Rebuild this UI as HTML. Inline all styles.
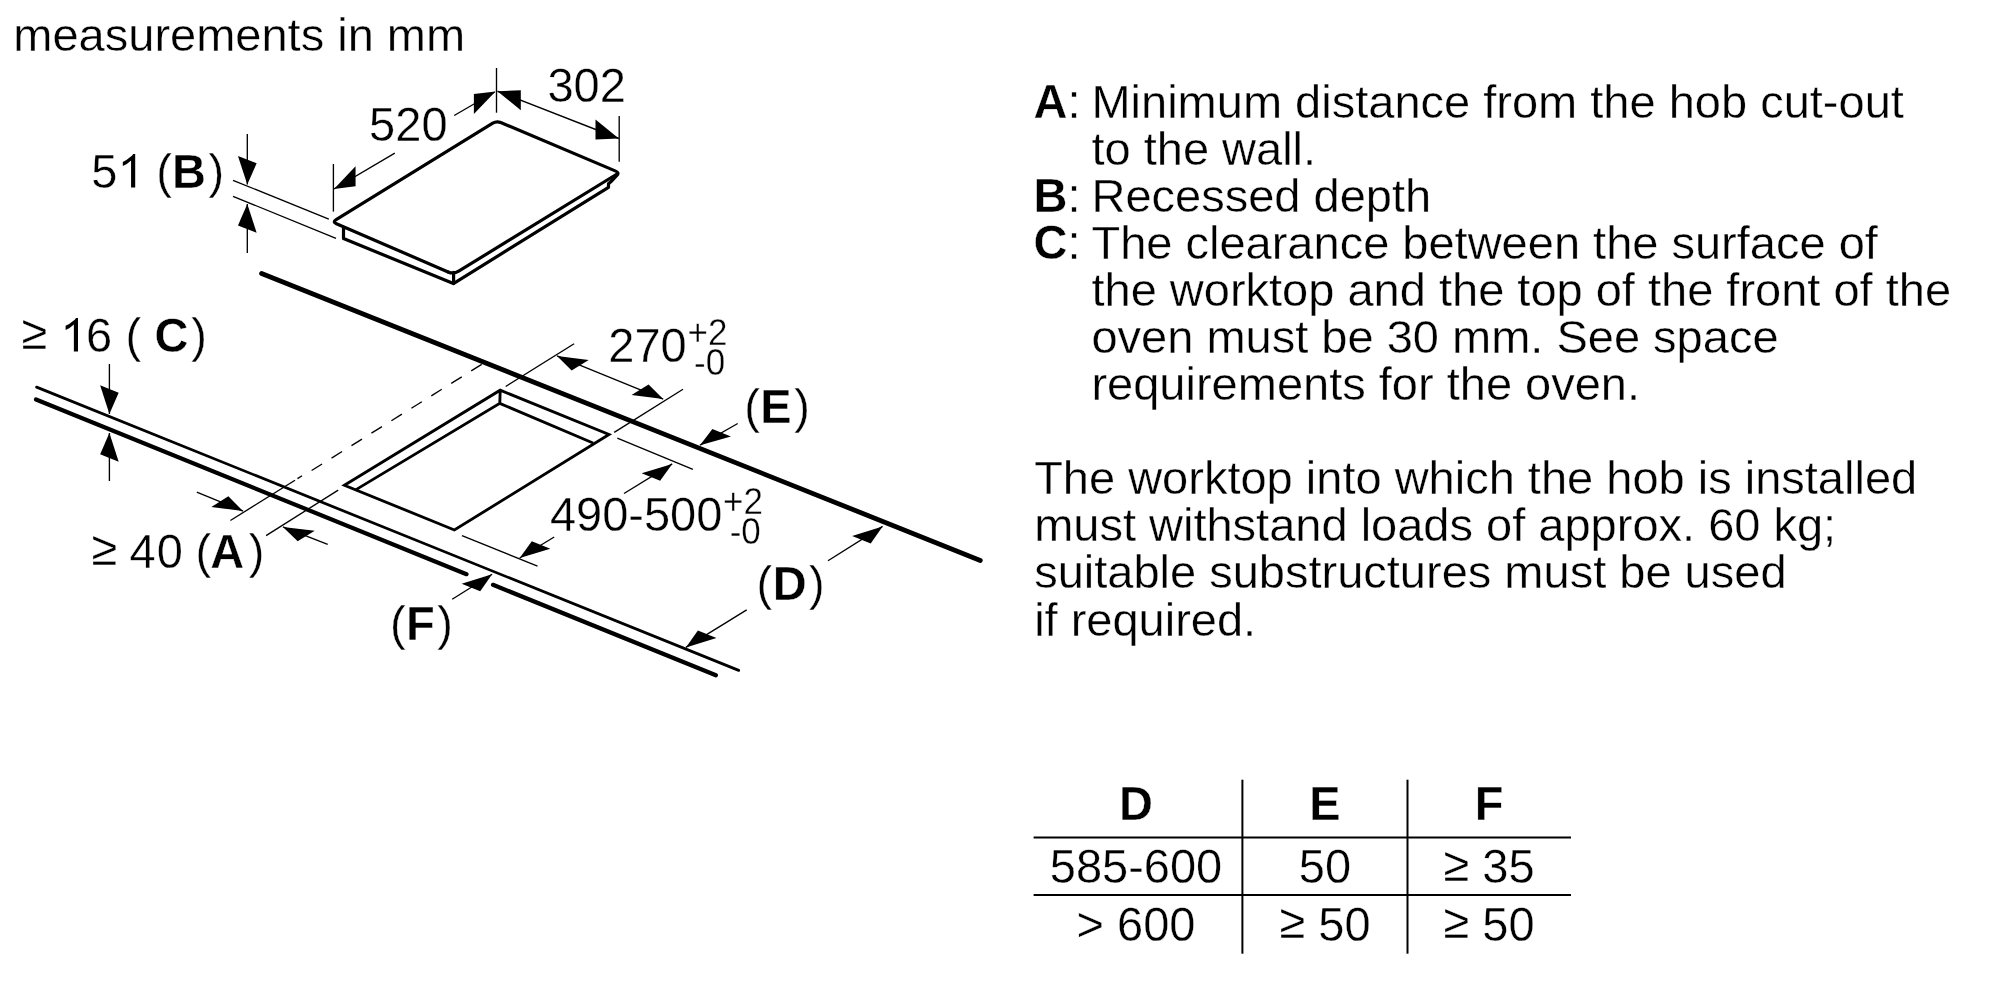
<!DOCTYPE html>
<html><head><meta charset="utf-8"><style>
html,body{margin:0;padding:0;background:#fff;}
body{width:2000px;height:1000px;overflow:hidden;}
svg{display:block;will-change:transform;}
text{font-family:"Liberation Sans",sans-serif;fill:#000;stroke:#fff;stroke-width:0.35;}
.t{stroke:#000;stroke-width:1.35;}
.mid{stroke:#000;stroke-width:2.75;stroke-linecap:round;}
.thick{stroke:#000;stroke-width:4.8;stroke-linecap:round;}
.thick2{stroke:#000;stroke-width:4.2;stroke-linecap:round;}
.tb{stroke:#000;stroke-width:2;}
.ah{fill:#000;}
.hob{fill:none;stroke:#000;stroke-width:3.4;stroke-linejoin:round;}
.hob2{fill:none;stroke:#000;stroke-width:3.2;stroke-linejoin:round;stroke-linecap:round;}
.cut{fill:none;stroke:#000;stroke-width:2.85;stroke-linejoin:miter;}
</style></head><body>
<svg width="2000" height="1000" viewBox="0 0 2000 1000">
<path d="M448.09,271.92 L336.43,223.78 Q332.30,222.00 336.13,219.64 L492.77,123.16 Q496.60,120.80 500.75,122.55 L615.15,170.85 Q619.30,172.60 617.30,174.83 L612.40,180.30 L608.50,183.80 L608.50,187.30 L453.40,283.60 L343.50,238.50 L343.50,227.50" class="hob2"/>
<path d="M617.42,173.75 L458.71,271.16 Q453.60,274.30 448.09,271.92" class="hob2"/>
<path d="M453.6,272.3 L453.6,283.3" class="hob2"/>
<line x1="247.30" y1="133.90" x2="247.30" y2="184.60" class="t"/>
<path d="M247.30,184.60L256.64,163.18L237.96,156.02Z" class="ah"/>
<line x1="247.30" y1="204.10" x2="247.30" y2="252.90" class="t"/>
<path d="M247.30,204.10L256.64,232.68L237.96,225.52Z" class="ah"/>
<line x1="233.00" y1="180.30" x2="328.80" y2="219.20" class="t"/>
<line x1="233.00" y1="196.30" x2="336.00" y2="238.40" class="t"/>
<line x1="333.40" y1="164.00" x2="333.40" y2="211.60" class="t"/>
<line x1="496.50" y1="68.00" x2="496.50" y2="112.70" class="t"/>
<line x1="619.20" y1="116.00" x2="619.20" y2="161.70" class="t"/>
<line x1="454.20" y1="115.50" x2="494.70" y2="92.00" class="t"/>
<path d="M495.50,91.60L473.86,114.12L473.86,94.12Z" class="ah"/>
<line x1="334.00" y1="189.00" x2="394.80" y2="153.20" class="t"/>
<path d="M334.00,189.00L355.54,186.32L355.54,166.32Z" class="ah"/>
<line x1="497.50" y1="91.25" x2="618.80" y2="138.50" class="t"/>
<path d="M497.50,91.25L520.80,110.32L520.80,90.32Z" class="ah"/>
<path d="M618.80,138.50L595.50,139.43L595.50,119.43Z" class="ah"/>
<line x1="261.60" y1="273.40" x2="980.30" y2="560.40" class="thick"/>
<line x1="36.60" y1="387.10" x2="738.70" y2="670.40" class="mid"/>
<line x1="36.00" y1="399.50" x2="466.50" y2="574.20" class="thick2"/>
<line x1="493.00" y1="584.80" x2="715.90" y2="675.30" class="thick2"/>
<line x1="109.40" y1="364.00" x2="109.40" y2="414.00" class="t"/>
<path d="M109.40,414.00L118.68,392.71L100.12,385.29Z" class="ah"/>
<line x1="109.40" y1="433.00" x2="109.40" y2="481.00" class="t"/>
<path d="M109.40,433.00L118.68,461.71L100.12,454.29Z" class="ah"/>
<path d="M344.4,485.2 L500.2,390.2 L609,434.4 L454.4,530 Z M356,489.6 L499.8,403.4 L593,443 M500.2,390.2 L499.8,403.4" class="cut"/>
<line x1="230.40" y1="520.50" x2="295.00" y2="480.20" class="t"/>
<line x1="297.50" y1="478.60" x2="302.00" y2="475.80" class="t"/>
<line x1="311.60" y1="470.53" x2="322.10" y2="463.98" class="t"/>
<line x1="331.55" y1="458.08" x2="342.05" y2="451.53" class="t"/>
<line x1="351.50" y1="445.63" x2="362.00" y2="439.08" class="t"/>
<line x1="371.45" y1="433.18" x2="381.95" y2="426.63" class="t"/>
<line x1="391.40" y1="420.74" x2="401.90" y2="414.18" class="t"/>
<line x1="411.35" y1="408.29" x2="421.85" y2="401.74" class="t"/>
<line x1="431.30" y1="395.84" x2="441.80" y2="389.29" class="t"/>
<line x1="451.25" y1="383.39" x2="461.75" y2="376.84" class="t"/>
<line x1="471.20" y1="370.94" x2="481.70" y2="364.39" class="t"/>
<line x1="266.10" y1="535.60" x2="338.20" y2="490.10" class="t"/>
<line x1="196.80" y1="492.20" x2="243.00" y2="511.10" class="t"/>
<path d="M243.00,511.10L228.36,496.36L211.36,506.90Z" class="ah"/>
<line x1="282.90" y1="526.90" x2="327.70" y2="544.40" class="t"/>
<path d="M282.90,526.90L314.69,530.73L297.69,541.27Z" class="ah"/>
<line x1="505.70" y1="386.50" x2="574.10" y2="343.80" class="t"/>
<line x1="614.20" y1="432.40" x2="683.00" y2="389.20" class="t"/>
<line x1="557.00" y1="355.90" x2="663.20" y2="399.10" class="t"/>
<path d="M557.00,355.90L588.66,360.05L571.66,370.59Z" class="ah"/>
<path d="M663.20,399.10L648.54,384.41L631.54,394.95Z" class="ah"/>
<line x1="617.30" y1="438.20" x2="692.90" y2="469.30" class="t"/>
<line x1="462.00" y1="535.60" x2="537.50" y2="566.20" class="t"/>
<line x1="624.00" y1="493.50" x2="672.20" y2="463.90" class="t"/>
<path d="M672.20,463.90L660.15,480.78L641.64,473.19Z" class="ah"/>
<line x1="519.70" y1="558.00" x2="554.20" y2="537.00" class="t"/>
<path d="M519.70,558.00L550.31,548.79L531.80,541.21Z" class="ah"/>
<line x1="700.00" y1="445.20" x2="737.70" y2="423.50" class="t"/>
<path d="M700.00,445.20L730.95,436.44L712.38,429.01Z" class="ah"/>
<line x1="882.60" y1="526.40" x2="828.00" y2="560.70" class="t"/>
<path d="M882.60,526.40L870.72,543.41L852.15,535.98Z" class="ah"/>
<line x1="685.90" y1="647.40" x2="746.70" y2="609.90" class="t"/>
<path d="M685.90,647.40L716.46,637.99L697.89,630.56Z" class="ah"/>
<line x1="492.10" y1="574.20" x2="452.20" y2="599.30" class="t"/>
<path d="M492.10,574.20L480.22,591.23L461.65,583.80Z" class="ah"/>
<text class="p" x="13.32" y="50.6" font-size="47">measurements in mm</text>
<text transform="translate(369.12,140.50) scale(1,1.03)" font-size="47">520</text>
<text transform="translate(547.41,101.50) scale(1,1.03)" font-size="47">302</text>
<g transform="translate(0,187.60) scale(1,1.03)"><text font-size="47"><tspan x="91.32" y="0.00">5</tspan><tspan x="156.29" y="0.00">(</tspan><tspan x="172.06" y="0.00" font-weight="bold">B</tspan><tspan x="208.52" y="0.00">)</tspan></text><path transform="translate(117.69,0) scale(0.02295,-0.02295)" d="M763,0 L583,0 L583,1147 Q430,1000 223,912 L223,1086 Q400,1160 520,1270 Q640,1350 680,1420 L763,1420 Z"/></g>
<g transform="translate(0,351.50) scale(1,1.03)"><text font-size="47"><tspan x="21.51" y="-2.43">≥</tspan><tspan x="86.11" y="0.00">6</tspan><tspan x="125.59" y="0.00">(</tspan><tspan x="154.57" y="0.00" font-weight="bold">C</tspan><tspan x="191.22" y="0.00">)</tspan></text><path transform="translate(60.49,0) scale(0.02295,-0.02295)" d="M763,0 L583,0 L583,1147 Q430,1000 223,912 L223,1086 Q400,1160 520,1270 Q640,1350 680,1420 L763,1420 Z"/></g>
<g transform="translate(0,567.50) scale(1,1.03)"><text font-size="47"><tspan x="91.51" y="-2.91">≥</tspan><tspan x="129.42" y="0.00">4</tspan><tspan x="156.66" y="0.00">0</tspan><tspan x="195.59" y="0.00">(</tspan><tspan x="210.33" y="0.00" font-weight="bold">A</tspan><tspan x="248.72" y="0.00">)</tspan></text></g>
<g transform="translate(0,600.10) scale(1,1.03)"><text font-size="47"><tspan x="756.39" y="0.00">(</tspan><tspan x="772.66" y="0.00" font-weight="bold">D</tspan><tspan x="809.12" y="0.00">)</tspan></text></g>
<g transform="translate(0,639.60) scale(1,1.03)"><text font-size="47"><tspan x="390.09" y="0.00">(</tspan><tspan x="406.06" y="0.00" font-weight="bold">F</tspan><tspan x="437.22" y="0.00">)</tspan></text></g>
<g transform="translate(0,422.90) scale(1,1.03)"><text font-size="47"><tspan x="744.29" y="0.00">(</tspan><tspan x="760.26" y="0.00" font-weight="bold">E</tspan><tspan x="794.32" y="0.00">)</tspan></text></g>
<text transform="translate(608.34,362.00) scale(1,1.03)" font-size="47">270</text>
<text transform="translate(687.59,344.80) scale(1,1.03)" font-size="35">+2</text>
<text transform="translate(694.05,374.60) scale(1,1.03)" font-size="35">-0</text>
<text transform="translate(549.92,531.30) scale(1,1.03)" font-size="47">490-500</text>
<text transform="translate(723.09,513.90) scale(1,1.03)" font-size="35">+2</text>
<text transform="translate(729.65,543.80) scale(1,1.03)" font-size="35">-0</text>
<text transform="translate(1033.50,118) scale(1,1.03)" font-size="47"><tspan font-weight="bold">A</tspan>:</text>
<text class="p" x="1091.45" y="118" font-size="47">Minimum distance from the hob cut-out</text>
<text class="p" x="1091.45" y="165" font-size="47">to the wall.</text>
<text transform="translate(1033.50,212) scale(1,1.03)" font-size="47"><tspan font-weight="bold">B</tspan>:</text>
<text class="p" x="1091.45" y="212" font-size="47">Recessed depth</text>
<text transform="translate(1033.50,259) scale(1,1.03)" font-size="47"><tspan font-weight="bold">C</tspan>:</text>
<text class="p" x="1091.45" y="259" font-size="47">The clearance between the surface of</text>
<text class="p" x="1091.45" y="306" font-size="47">the worktop and the top of the front of the</text>
<text class="p" x="1091.45" y="353" font-size="47">oven must be 30 mm. See space</text>
<text class="p" x="1091.45" y="400" font-size="47">requirements for the oven.</text>
<text class="p" x="1034.14" y="494.20" font-size="47">The worktop into which the hob is installed</text>
<text class="p" x="1034.14" y="541.30" font-size="47">must withstand loads of approx. 60 kg;</text>
<text class="p" x="1034.14" y="588.40" font-size="47">suitable substructures must be used</text>
<text class="p" x="1034.14" y="635.50" font-size="47">if required.</text>
<line x1="1242.40" y1="779.70" x2="1242.40" y2="953.70" class="tb"/>
<line x1="1407.50" y1="779.70" x2="1407.50" y2="953.70" class="tb"/>
<line x1="1033.60" y1="837.40" x2="1571.00" y2="837.40" class="tb"/>
<line x1="1033.60" y1="895.10" x2="1571.00" y2="895.10" class="tb"/>
<text transform="translate(1136,820.3) scale(1,1.03)" font-size="47" font-weight="bold" text-anchor="middle">D</text>
<text transform="translate(1325,820.3) scale(1,1.03)" font-size="47" font-weight="bold" text-anchor="middle">E</text>
<text transform="translate(1489,820.3) scale(1,1.03)" font-size="47" font-weight="bold" text-anchor="middle">F</text>
<text transform="translate(1136,883.2) scale(1,1.03)" font-size="47" text-anchor="middle">585-600</text>
<text transform="translate(1325,883.2) scale(1,1.03)" font-size="47" text-anchor="middle">50</text>
<text transform="translate(1489,883.2) scale(1,1.03)" font-size="47" text-anchor="middle"><tspan dy="-2.5">≥</tspan><tspan dy="2.5"> 35</tspan></text>
<text transform="translate(1136,940.6) scale(1,1.03)" font-size="47" text-anchor="middle">&gt; 600</text>
<text transform="translate(1325,940.6) scale(1,1.03)" font-size="47" text-anchor="middle"><tspan dy="-2.5">≥</tspan><tspan dy="2.5"> 50</tspan></text>
<text transform="translate(1489,940.6) scale(1,1.03)" font-size="47" text-anchor="middle"><tspan dy="-2.5">≥</tspan><tspan dy="2.5"> 50</tspan></text>
</svg>
</body></html>
